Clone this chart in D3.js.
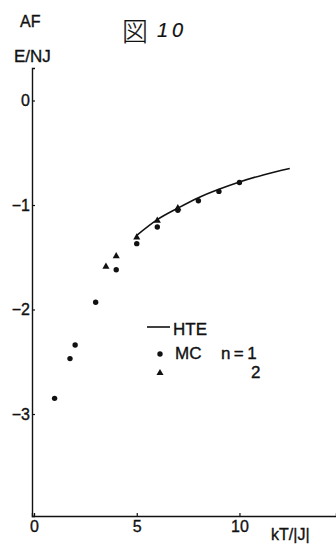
<!DOCTYPE html>
<html><head><meta charset="utf-8">
<script src="https://cdn.jsdelivr.net/npm/d3@7"></script>
<style>body{margin:0;background:#fff}svg{display:block}text{font-family:"Liberation Sans",Arial,sans-serif;fill:#111;stroke:#111;stroke-width:0.35px}</style>
</head><body><svg id="c" width="336" height="548"></svg>
<script>
// Data
const mcN1X = [1, 1.75, 2, 3, 4, 5, 6, 7, 8, 9, 10];
const mcN1Y = [-2.85, -2.47, -2.34, -1.93, -1.62, -1.37, -1.21, -1.05, -0.96, -0.87, -0.785];
const mcN2X = [3.5, 4, 5, 6, 7];
const mcN2Y = [-1.59, -1.49, -1.31, -1.15, -1.03];
const hteX = [5, 6, 7, 8, 9, 10, 11.2, 12.45];
const hteY = [-1.29, -1.14, -1.03, -0.93, -0.85, -0.78, -0.71, -0.65];
const xTicks = [0, 5, 10];
const yTicks = [0, -1, -2, -3];

const svg = d3.select("#c");
const x = d3.scaleLinear().domain([-0.1, 14.7]).range([32, 336]);
const y = d3.scaleLinear().domain([-3.976, 0.311]).range([516, 68]);

// axes
const gx = svg.append("g").attr("transform", "translate(0,516)")
  .call(d3.axisBottom(x).tickValues(xTicks).tickSize(-3).tickPadding(5).tickFormat(d3.format("d")));
const gy = svg.append("g").attr("transform", "translate(32,0)")
  .call(d3.axisLeft(y).tickValues(yTicks).tickSize(-3).tickPadding(2).tickFormat(d => d === 0 ? "0" : "\u2212" + Math.abs(d)));
[gx, gy].forEach(g => {
  g.attr("font-size", 16).attr("font-family", "Liberation Sans, Arial, sans-serif");
  g.select(".domain").attr("stroke", "#111").attr("stroke-width", 1.4);
  g.selectAll(".tick line").attr("stroke", "#111").attr("stroke-width", 1.2);
  g.selectAll(".tick text").attr("fill", "#111");
});

// HTE line
const line = d3.line().x(d => x(d[0])).y(d => y(d[1])).curve(d3.curveMonotoneX);
svg.append("path").datum(hteX.map((v, i) => [v, hteY[i]]))
  .attr("d", line).attr("fill", "none").attr("stroke", "#111").attr("stroke-width", 1.6);

// MC n=1 circles
svg.append("g").selectAll("circle").data(mcN1X.map((v, i) => [v, mcN1Y[i]])).join("circle")
  .attr("cx", d => x(d[0])).attr("cy", d => y(d[1])).attr("r", 2.7).attr("fill", "#111");
// MC n=2 triangles
const tri = d3.symbol().type(d3.symbolTriangle).size(22);
svg.append("g").selectAll("path").data(mcN2X.map((v, i) => [v, mcN2Y[i]])).join("path")
  .attr("d", tri).attr("transform", d => `translate(${x(d[0])},${y(d[1])})`).attr("fill", "#111");

// axis titles
const t = (xx, yy, size, str) => svg.append("text").attr("x", xx).attr("y", yy)
  .attr("font-size", size).style("font-size", size + "px").text(str);
t(20, 27, 16, "AF");
t(14, 62, 17, "E/NJ");
t(271, 540, 16, "kT/|J|");

// handwritten figure mark
svg.append("text").attr("x", 122).attr("y", 41).style("font-family", "Noto Sans CJK JP")
  .style("font-size", "26px").style("font-weight", "300").style("stroke-width", "0.2px").text("図");
svg.append("text").attr("x", 157).attr("y", 37).style("font-size", "20px").style("font-style", "italic")
  .style("stroke-width", "0.2px").attr("letter-spacing", "4").text("10");

// legend
svg.append("line").attr("x1", 147).attr("x2", 170).attr("y1", 327).attr("y2", 327).attr("stroke", "#111").attr("stroke-width", 1.6);
t(173, 335, 17, "HTE");
svg.append("circle").attr("cx", 160).attr("cy", 354).attr("r", 2.7).attr("fill", "#111");
t(175, 359, 17, "MC");
t(221, 359, 17, "n\u2009=\u20091");
svg.append("path").attr("d", tri).attr("transform", "translate(160,373)").attr("fill", "#111");
t(251, 378, 17, "2");
</script></body></html>
